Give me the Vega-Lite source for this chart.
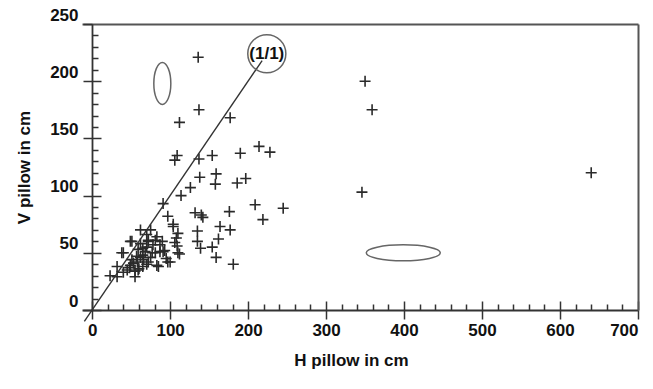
{
  "$schema": "https://vega.github.io/schema/vega-lite/v6.json",
  "width": 556,
  "height": 286,
  "autosize": "none",
  "padding": {"left": 82, "top": 24, "right": 15, "bottom": 79},
  "background": "white",
  "config": {
    "view": {"stroke": null},
    "font": "Liberation Sans",
    "axis": {"labelFont": "Liberation Sans", "titleFont": "Liberation Sans", "labelFontWeight": "bold", "titleFontWeight": "bold", "labelFontSize": 17, "titleFontSize": 17, "labelColor": "#111", "titleColor": "#111", "domainColor": "#333", "tickColor": "#333", "domainWidth": 1.8, "tickWidth": 1.5, "grid": false}
  },
  "datasets": {
    "pts": [
      {"H": 350, "V": 200}, {"H": 359, "V": 175}, {"H": 346, "V": 103}, {"H": 640, "V": 120},
      {"H": 136, "V": 221}, {"H": 137, "V": 175}, {"H": 112, "V": 164}, {"H": 177, "V": 168},
      {"H": 109, "V": 135}, {"H": 106, "V": 131}, {"H": 137, "V": 132}, {"H": 154, "V": 135},
      {"H": 190, "V": 137}, {"H": 214, "V": 143}, {"H": 228, "V": 138},
      {"H": 138, "V": 116}, {"H": 159, "V": 119}, {"H": 158, "V": 110}, {"H": 186, "V": 111},
      {"H": 197, "V": 115}, {"H": 126, "V": 107}, {"H": 114, "V": 100}, {"H": 91, "V": 93},
      {"H": 132, "V": 85}, {"H": 140, "V": 83}, {"H": 142, "V": 81}, {"H": 176, "V": 86},
      {"H": 209, "V": 92}, {"H": 245, "V": 89}, {"H": 219, "V": 79}, {"H": 164, "V": 73},
      {"H": 177, "V": 70}, {"H": 135, "V": 69}, {"H": 135, "V": 60}, {"H": 162, "V": 62},
      {"H": 154, "V": 55}, {"H": 139, "V": 54}, {"H": 159, "V": 46}, {"H": 181, "V": 40},
      {"H": 108, "V": 63}, {"H": 109, "V": 56}, {"H": 112, "V": 49}, {"H": 97, "V": 42},
      {"H": 97, "V": 82}, {"H": 104, "V": 75}, {"H": 110, "V": 67}, {"H": 110, "V": 50},
      {"H": 100, "V": 42}, {"H": 85, "V": 38}, {"H": 91, "V": 51}, {"H": 81, "V": 50},
      {"H": 72, "V": 60}, {"H": 70, "V": 66}, {"H": 49, "V": 60}, {"H": 81, "V": 61},
      {"H": 87, "V": 57}, {"H": 40, "V": 50}, {"H": 104, "V": 73}, {"H": 106, "V": 59},
      {"H": 23, "V": 30}, {"H": 32, "V": 29}, {"H": 40, "V": 33}, {"H": 32, "V": 38},
      {"H": 38, "V": 50}, {"H": 51, "V": 60}, {"H": 62, "V": 70}, {"H": 51, "V": 44},
      {"H": 55, "V": 29}, {"H": 45, "V": 35}, {"H": 49, "V": 39}, {"H": 53, "V": 41},
      {"H": 58, "V": 42}, {"H": 62, "V": 46}, {"H": 65, "V": 48}, {"H": 72, "V": 61},
      {"H": 83, "V": 64}, {"H": 90, "V": 60}, {"H": 87, "V": 51}, {"H": 77, "V": 50},
      {"H": 65, "V": 38}, {"H": 83, "V": 39}, {"H": 72, "V": 42}, {"H": 59, "V": 35},
      {"H": 70, "V": 55}, {"H": 78, "V": 57}, {"H": 59, "V": 53}, {"H": 65, "V": 54},
      {"H": 60, "V": 36}, {"H": 55, "V": 34}, {"H": 48, "V": 37}, {"H": 66, "V": 44},
      {"H": 75, "V": 46}, {"H": 68, "V": 51}, {"H": 57, "V": 47}, {"H": 62, "V": 58},
      {"H": 75, "V": 70}, {"H": 95, "V": 45}, {"H": 93, "V": 52}, {"H": 70, "V": 40}
    ],
    "diag": [{"H": -10, "V": -10}, {"H": 218, "V": 218}],
    "ell": [{"H": 90, "V": 198, "kind": "vertical"}, {"H": 399, "V": 50, "kind": "horizontal"}],
    "lab": [{"H": 224, "V": 224, "text": "(1/1)"}]
  },
  "layer": [
    {
      "data": {"name": "pts"},
      "mark": {"type": "point", "shape": "M-1,0L1,0M0,-1L0,1", "filled": false, "size": 121, "stroke": "#2a2a2a", "strokeWidth": 1.6, "opacity": 1},
      "encoding": {
        "x": {"field": "H", "type": "quantitative", "scale": {"domain": [-13, 700], "nice": false, "zero": false},
          "axis": {"orient": "bottom", "values": [0, 100, 200, 300, 400, 500, 600, 700], "tickSize": 9, "labelPadding": 3, "title": "H pillow in cm", "titlePadding": 14, "titleX": 269}},
        "y": {"field": "V", "type": "quantitative", "scale": {"domain": [0, 250], "nice": false, "zero": false},
          "axis": {"orient": "left", "offset": -10, "values": [0, 50, 100, 150, 200, 250], "tickSize": 9, "labelPadding": 5, "labelOffset": -9, "title": "V pillow in cm", "titlePadding": 16}}
      }
    },
    {
      "data": {"name": "diag"},
      "mark": {"type": "line", "stroke": "#333", "strokeWidth": 1.4},
      "encoding": {
        "x": {"field": "H", "type": "quantitative",
          "axis": {"orient": "bottom", "values": [0, 20, 40, 60, 80, 100, 120, 140, 160, 180, 200, 220, 240, 260, 280, 300, 320, 340, 360, 380, 400, 420, 440, 460, 480, 500, 520, 540, 560, 580, 600, 620, 640, 660, 680, 700],
            "tickSize": {"condition": {"test": "datum.value % 100 === 0", "value": -9}, "value": -6}, "labels": false, "domain": false, "title": null}},
        "y": {"field": "V", "type": "quantitative",
          "axis": {"orient": "left", "offset": -10, "values": [0, 10, 20, 30, 40, 50, 60, 70, 80, 90, 100, 110, 120, 130, 140, 150, 160, 170, 180, 190, 200, 210, 220, 230, 240],
            "tickSize": {"condition": {"test": "datum.value % 50 === 0", "value": -9}, "value": -6}, "labels": false, "domain": false, "title": null}}
      }
    },
    {
      "data": {"name": "ell"},
      "mark": {"type": "point", "filled": false, "strokeWidth": 1.5, "stroke": "#666", "opacity": 1},
      "encoding": {
        "x": {"field": "H", "type": "quantitative", "axis": {"orient": "top", "ticks": false, "labels": false, "title": null, "domainColor": "#555", "domainWidth": 2}},
        "y": {"field": "V", "type": "quantitative", "axis": {"orient": "right", "ticks": false, "labels": false, "title": null, "domainColor": "#555", "domainWidth": 2}},
        "shape": {"field": "kind", "type": "nominal", "legend": null, "scale": {"domain": ["vertical", "horizontal"], "range": [
          "M0.405,0 C0.405,0.5523 0.2237,1 0,1 C-0.2237,1 -0.405,0.5523 -0.405,0 C-0.405,-0.5523 -0.2237,-1 0,-1 C0.2237,-1 0.405,-0.5523 0.405,0 Z",
          "M1,0 C1,0.1193 0.5523,0.216 0,0.216 C-0.5523,0.216 -1,0.1193 -1,0 C-1,-0.1193 -0.5523,-0.216 0,-0.216 C0.5523,-0.216 1,-0.1193 1,0 Z"]}},
        "size": {"field": "kind", "type": "nominal", "legend": null, "scale": {"domain": ["vertical", "horizontal"], "range": [1764, 5476]}}
      }
    },
    {
      "data": {"name": "lab"},
      "mark": {"type": "point", "shape": "circle", "filled": false, "size": 1450, "stroke": "#666", "strokeWidth": 1.5, "opacity": 1},
      "encoding": {
        "x": {"field": "H", "type": "quantitative", "axis": null},
        "y": {"field": "V", "type": "quantitative", "axis": null}
      }
    },
    {
      "data": {"name": "lab"},
      "mark": {"type": "text", "font": "Liberation Sans", "fontWeight": "bold", "fontSize": 17, "color": "#111", "align": "center", "baseline": "middle"},
      "encoding": {
        "x": {"field": "H", "type": "quantitative", "axis": null},
        "y": {"field": "V", "type": "quantitative", "axis": null},
        "text": {"field": "text"}
      }
    }
  ],
  "resolve": {"axis": {"x": "independent", "y": "independent"}}
}
